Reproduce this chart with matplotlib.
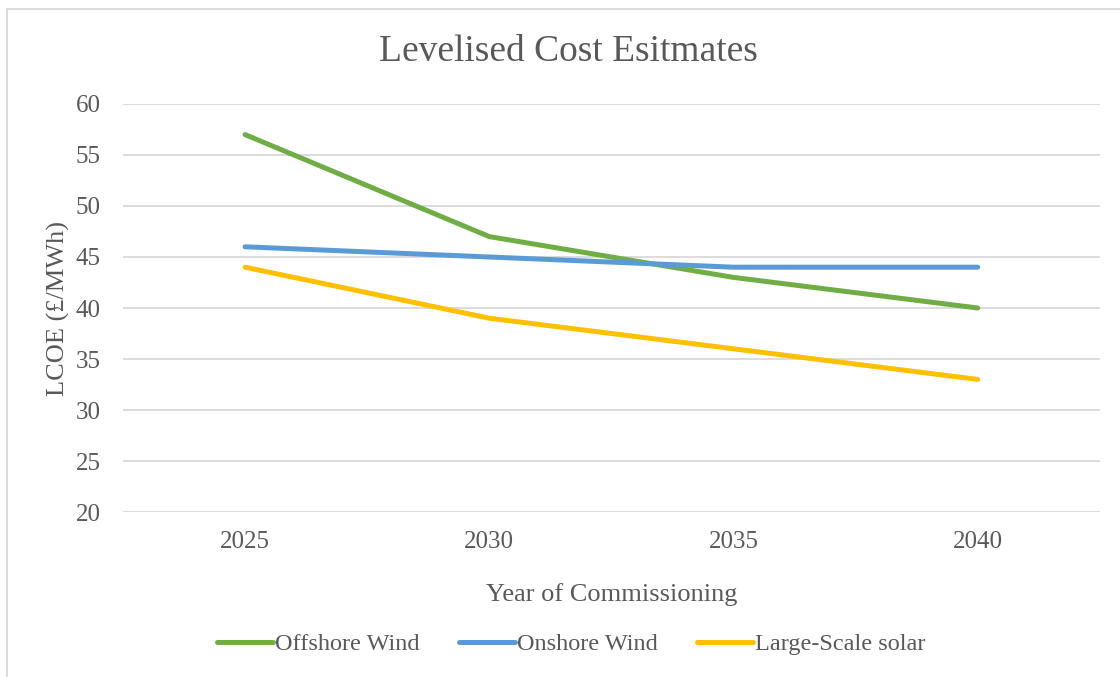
import matplotlib.pyplot as plt
from matplotlib.lines import Line2D

years = ['2025', '2030', '2035', '2040']
offshore_wind = [57, 47, 43, 40]
onshore_wind = [46, 45, 44, 44]
solar = [44, 39, 36, 33]

plt.rcParams['font.family'] = ['Liberation Serif', 'DejaVu Serif']
text_col = '#595959'

fig = plt.figure(figsize=(11.2, 6.77), dpi=100)
ax = fig.add_axes([0.1098, 0.2437, 0.8722, 0.6027])

x = range(len(years))
series = [
    (offshore_wind, '#70AD47', 'Offshore Wind'),
    (onshore_wind, '#5B9BD5', 'Onshore Wind'),
    (solar, '#FFC000', 'Large-Scale solar'),
]
for vals, col, name in series:
    ax.plot(x, vals, color=col, lw=3.6, solid_capstyle='round',
            solid_joinstyle='round', label=name)

ax.set_xlim(-0.5, 3.5)
ax.set_ylim(20, 60)
ax.set_yticks(range(20, 61, 5))
ax.set_xticks(list(x))
ax.set_xticklabels(years)
ax.grid(axis='y', color='#D9D9D9', lw=1.3)
ax.set_axisbelow(True)
for s in ax.spines.values():
    s.set_visible(False)
ax.tick_params(length=0, labelsize=18, labelcolor=text_col)
ax.tick_params(axis='x', pad=14)
ax.tick_params(axis='y', pad=16)

fig.text(568 / 1120, 1 - 52 / 677, 'Levelised Cost Esitmates', fontsize=27,
         color=text_col, ha='center', va='center')
ax.set_xlabel('Year of Commissioning', fontsize=19, color=text_col, labelpad=21)
ax.set_ylabel('LCOE (£/MWh)', fontsize=19, color=text_col, labelpad=4)

handles = [Line2D([], [], color=c, lw=3.6, solid_capstyle='round') for _, c, _ in series]
fig.legend(handles, [n for _, _, n in series], loc='center', bbox_to_anchor=(0.51, 1 - 644 / 677),
           ncol=3, frameon=False, fontsize=17.5, handlelength=2.3, handletextpad=0.1,
           columnspacing=1.6, labelcolor=text_col, borderpad=0)

# chart area border
fig.add_artist(Line2D([7 / 1120, 7 / 1120], [0, 1 - 9 / 677], color='#D9D9D9', lw=1.3,
                      transform=fig.transFigure))
fig.add_artist(Line2D([7 / 1120, 1], [1 - 9 / 677, 1 - 9 / 677], color='#D9D9D9', lw=1.3,
                      transform=fig.transFigure))

fig.savefig('out.png', dpi=100)
